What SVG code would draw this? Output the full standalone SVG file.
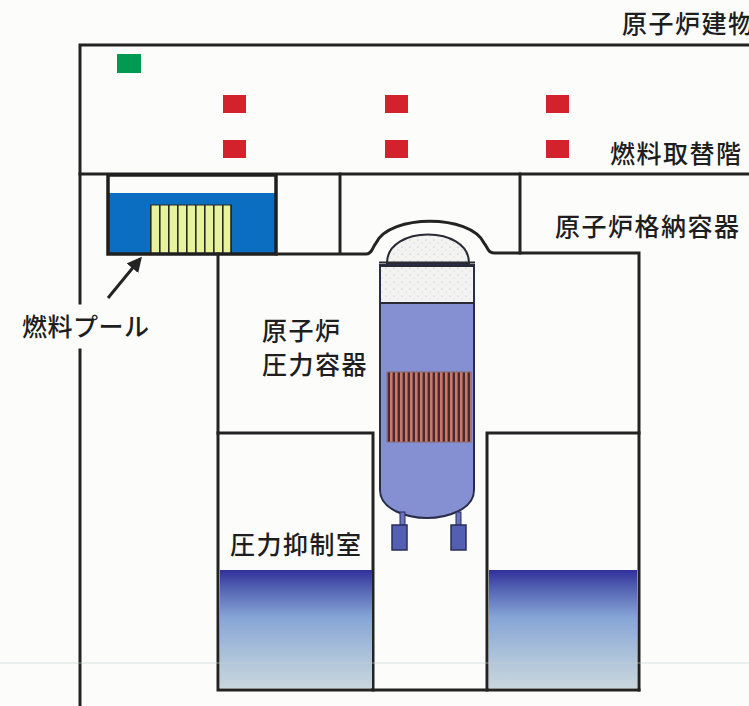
<svg xmlns="http://www.w3.org/2000/svg" width="749" height="706" viewBox="0 0 749 706">
  <defs>
    <style>
      .wall { fill: none; stroke: #232323; stroke-width: 3; stroke-linecap: square; }
      .thin { fill: none; stroke: #2a2a35; stroke-width: 2; }
      .label { font-family: "Noto Sans CJK JP", "Noto Sans CJK SC", sans-serif; font-size: 25px; font-weight: 500; fill: #1e1e1e; letter-spacing: 1.5px; }
      .red { fill: #d3222c; }
      .leg { fill: #5360b2; stroke: #2a2d5a; stroke-width: 1.5; }
    </style>
    <linearGradient id="water" x1="0" y1="0" x2="0" y2="1">
      <stop offset="0" stop-color="#30309a"/>
      <stop offset="0.15" stop-color="#5260b2"/>
      <stop offset="0.4" stop-color="#86a5d6"/>
      <stop offset="0.7" stop-color="#a9c0da"/>
      <stop offset="1" stop-color="#c9d6dd"/>
    </linearGradient>
    <pattern id="speckle" width="8" height="7" patternUnits="userSpaceOnUse">
      <rect width="8" height="7" fill="#f3f3f1"/>
      <circle cx="2" cy="2" r="0.6" fill="#a9a9a9"/>
      <circle cx="6" cy="5" r="0.5" fill="#bdbdbd"/>
    </pattern>
    <pattern id="coreRods" width="5" height="10" patternUnits="userSpaceOnUse">
      <rect width="5" height="10" fill="#c9786a"/>
      <rect x="2.6" width="2.4" height="10" fill="#4a2a2e"/>
    </pattern>
    <pattern id="rack" width="9" height="10" patternUnits="userSpaceOnUse" x="150">
      <rect width="9" height="10" fill="#e6f29c"/>
      <rect width="1.6" height="10" fill="#2b2b20"/>
    </pattern>
    <marker id="arrowHead" viewBox="0 0 10 10" refX="8" refY="5" markerWidth="5" markerHeight="5" orient="auto">
      <path d="M0,0 L10,5 L0,10 Z" fill="#232323"/>
    </marker>
  </defs>

  <rect width="749" height="706" fill="#fcfcfb"/>

  <!-- reactor building shell and refuelling floor -->
  <g id="reactor-building">
    <path class="wall" d="M749 45 H80 V303"/>
    <path class="wall" d="M80 350 V706"/>
    <path class="wall" d="M80 174 H749"/>
    <rect x="117" y="54" width="24" height="19" fill="#009a50"/>
    <g id="refuel-floor-markers">
      <rect class="red" x="223" y="95" width="23" height="18"/>
      <rect class="red" x="385" y="95" width="23" height="18"/>
      <rect class="red" x="546" y="95" width="23" height="18"/>
      <rect class="red" x="223" y="140" width="23" height="18"/>
      <rect class="red" x="385" y="140" width="23" height="18"/>
      <rect class="red" x="546" y="140" width="23" height="18"/>
    </g>
    <!-- cells beside the well -->
    <path class="wall" d="M340 174 V253"/>
    <path class="wall" d="M520 174 V253"/>
  </g>

  <!-- spent fuel pool -->
  <g id="fuel-pool">
    <rect x="108" y="193" width="168" height="61" fill="#0b6ec1"/>
    <rect x="150" y="205" width="82" height="49" fill="url(#rack)"/>
    <path d="M231 205 V254" stroke="#2b2b20" stroke-width="1.6"/>
    <path d="M150 205 H232" stroke="#2b2b20" stroke-width="1"/>
    <rect x="108" y="175" width="168" height="79" fill="none" stroke="#1f1f1f" stroke-width="3.5"/>
  </g>

  <!-- primary containment (drywell) -->
  <g id="containment">
    <path class="wall" d="M276 254 H366 C372 254 372 248 376 243 C390 214 470 214 484 243 C488 248 488 253 494 253 H639 V690"/>
    <path class="wall" d="M218 254 V690 H639"/>
    <path class="wall" d="M218 433 H373 V690"/>
    <path class="wall" d="M487 690 V433 H639"/>
  </g>

  <!-- suppression pool water -->
  <g id="suppression-chamber">
    <rect x="220" y="570" width="152" height="118" fill="url(#water)"/>
    <rect x="489" y="570" width="148" height="118" fill="url(#water)"/>
  </g>

  <!-- reactor pressure vessel -->
  <g id="pressure-vessel">
    <path d="M387 263 C387 225 469 225 469 263 Z" fill="url(#speckle)" stroke="#2a2a35" stroke-width="2"/>
    <path d="M380 265 V490 C380 510 408 518 427 518 C446 518 474 510 474 490 V265 Z" fill="#8590d2" stroke="#2a2d4a" stroke-width="2"/>
    <rect x="381" y="266" width="92" height="37" fill="url(#speckle)"/>
    <path class="thin" d="M380 303 H474"/>
    <path class="thin" d="M379 262.5 H475 M379 266 H475"/>
    <rect x="387" y="372" width="84" height="70" fill="url(#coreRods)" stroke="#8a6a70" stroke-width="1"/>
    <rect x="400" y="512" width="5" height="14" fill="#6a74bf" stroke="#2a2d5a" stroke-width="1"/>
    <rect x="456" y="512" width="5" height="14" fill="#6a74bf" stroke="#2a2d5a" stroke-width="1"/>
    <rect class="leg" x="392" y="525" width="15" height="25"/>
    <rect class="leg" x="451" y="525" width="15" height="25"/>
  </g>

  <!-- leader arrow to the fuel pool -->
  <g id="connectors">
    <line x1="108" y1="298" x2="140" y2="259" stroke="#232323" stroke-width="3" marker-end="url(#arrowHead)"/>
  </g>

  <g id="labels">
    <text class="label" x="622" y="33">原子炉建物</text>
    <text class="label" x="610" y="163">燃料取替階</text>
    <text class="label" x="555" y="236">原子炉格納容器</text>
    <text class="label" x="22" y="336" style="letter-spacing:0.5px">燃料プール</text>
    <text class="label" x="262" y="340">原子炉</text>
    <text class="label" x="262" y="374">圧力容器</text>
    <text class="label" x="230" y="554">圧力抑制室</text>
  </g>

  <!-- faint scan line across the sheet -->
  <line x1="0" y1="663" x2="749" y2="663" stroke="#c4d2ce" stroke-width="1" opacity="0.6"/>
</svg>
